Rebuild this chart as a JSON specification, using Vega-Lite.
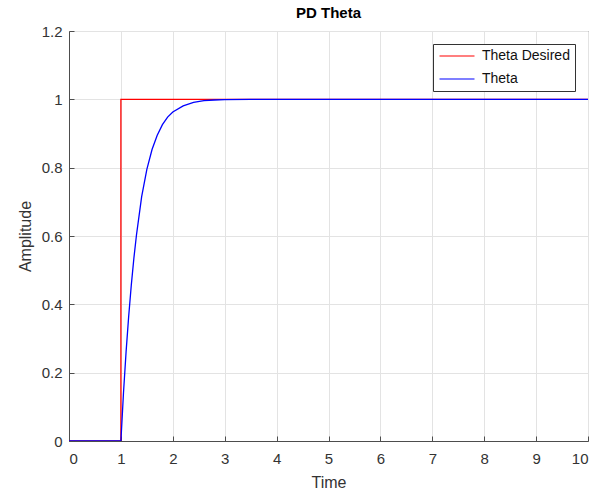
{
  "$schema": "https://vega.github.io/schema/vega-lite/v6.json",
  "autosize": "none",
  "width": 519,
  "height": 410,
  "padding": {"left": 69, "top": 31, "right": 22, "bottom": 52},
  "background": "white",
  "title": {"text": "PD Theta", "fontSize": 15, "font": "Liberation Sans", "fontWeight": "bold", "color": "#000", "offset": 3},
  "config": {
    "view": {"stroke": "#4d4d4d", "strokeWidth": 1},
    "axis": {"labelFont": "Liberation Sans", "titleFont": "Liberation Sans", "labelFontSize": 15, "titleFontSize": 16, "labelColor": "#333", "titleColor": "#333", "titleFontWeight": "normal", "domainColor": "#4d4d4d", "tickColor": "#4d4d4d", "gridColor": "#e3e3e3", "gridOpacity": 1}
  },
  "data": {"values": [
    {"series": "Theta Desired", "o": 1, "t": 0, "y": 0},
    {"series": "Theta Desired", "o": 2, "t": 1, "y": 0},
    {"series": "Theta Desired", "o": 3, "t": 1, "y": 1},
    {"series": "Theta Desired", "o": 4, "t": 10, "y": 1},
    {"series": "Theta", "o": 1, "t": 0, "y": 0},
    {"series": "Theta", "o": 2, "t": 1, "y": 0},
    {"series": "Theta", "o": 3, "t": 1.05, "y": 0.141},
    {"series": "Theta", "o": 4, "t": 1.1, "y": 0.261},
    {"series": "Theta", "o": 5, "t": 1.15, "y": 0.365},
    {"series": "Theta", "o": 6, "t": 1.2, "y": 0.456},
    {"series": "Theta", "o": 7, "t": 1.25, "y": 0.535},
    {"series": "Theta", "o": 8, "t": 1.3, "y": 0.603},
    {"series": "Theta", "o": 9, "t": 1.4, "y": 0.715},
    {"series": "Theta", "o": 10, "t": 1.5, "y": 0.795},
    {"series": "Theta", "o": 11, "t": 1.6, "y": 0.853},
    {"series": "Theta", "o": 12, "t": 1.7, "y": 0.895},
    {"series": "Theta", "o": 13, "t": 1.8, "y": 0.926},
    {"series": "Theta", "o": 14, "t": 1.9, "y": 0.948},
    {"series": "Theta", "o": 15, "t": 2.0, "y": 0.963},
    {"series": "Theta", "o": 16, "t": 2.2, "y": 0.981},
    {"series": "Theta", "o": 17, "t": 2.4, "y": 0.991},
    {"series": "Theta", "o": 18, "t": 2.6, "y": 0.996},
    {"series": "Theta", "o": 19, "t": 2.8, "y": 0.998},
    {"series": "Theta", "o": 20, "t": 3.0, "y": 0.999},
    {"series": "Theta", "o": 21, "t": 3.5, "y": 1.0},
    {"series": "Theta", "o": 22, "t": 10, "y": 1.0}
  ]},
  "mark": {"type": "line", "strokeWidth": 1.3, "clip": true},
  "encoding": {
    "x": {"field": "t", "type": "quantitative", "scale": {"domain": [0, 10], "nice": false, "zero": false}, "axis": {"title": "Time", "values": [0,1,2,3,4,5,6,7,8,9,10], "tickSize": -5, "labelPadding": 15, "titlePadding": 8, "grid": true}},
    "y": {"field": "y", "type": "quantitative", "scale": {"domain": [0, 1.2], "nice": false}, "axis": {"title": "Amplitude", "values": [0,0.2,0.4,0.6,0.8,1,1.2], "format": ".1~f", "tickSize": -5, "labelPadding": 12, "titlePadding": 8, "grid": true}},
    "color": {"field": "series", "type": "nominal", "scale": {"domain": ["Theta Desired", "Theta"], "range": ["#ff0000", "#0000ff"]},
      "legend": {"title": null, "orient": "none", "legendX": 364, "legendY": 13, "strokeColor": "#333", "fillColor": "white", "padding": 5, "symbolType": "M-3,0H3", "symbolSize": 136, "symbolOffset": 12, "symbolStrokeWidth": 1.2, "labelFont": "Liberation Sans", "labelFontSize": 14, "labelColor": "#111", "rowPadding": 9, "labelOffset": 18,
        "encode": {"symbols": {"update": {"stroke": {"scale": "color", "field": "value"}, "fill": {"value": "transparent"}}}}}},
    "order": {"field": "o", "type": "quantitative"}
  }
}
